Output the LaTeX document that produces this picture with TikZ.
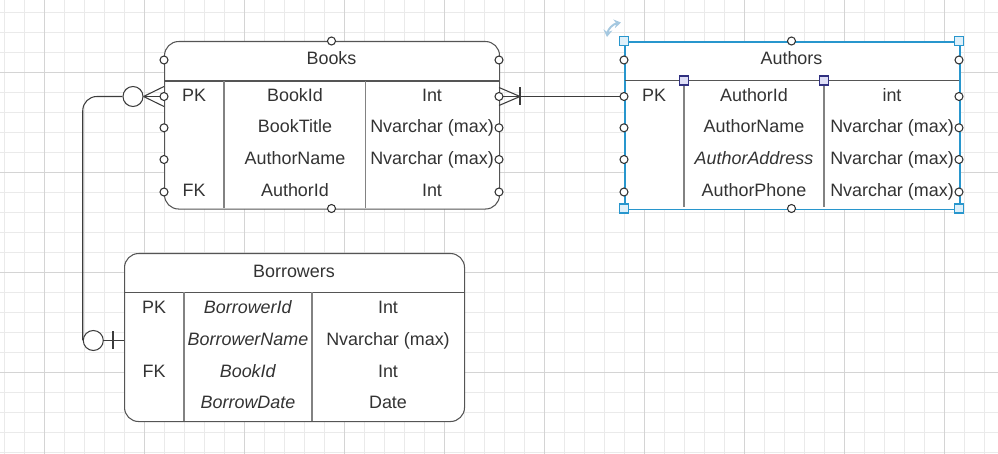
\documentclass[tikz,border=0pt]{standalone}
\usepackage{fontspec}
\setmainfont{Liberation Sans}
\usepackage{xcolor}
\definecolor{erline}{RGB}{85,85,85}
\definecolor{erdiv}{RGB}{130,130,130}
\definecolor{ertext}{RGB}{51,51,51}
\definecolor{connline}{RGB}{60,60,60}
\definecolor{gridminor}{RGB}{234,234,234}
\definecolor{gridmajor}{RGB}{212,212,212}
\definecolor{selblue}{RGB}{40,150,205}
\definecolor{selfill}{RGB}{222,240,250}
\definecolor{colhandle}{RGB}{48,48,128}
\definecolor{colfill}{RGB}{222,222,246}
\definecolor{rotblue}{RGB}{165,200,224}
\usetikzlibrary{arrows.meta,positioning,calc}

\begin{document}
\begin{tikzpicture}[x=0.2mm, y=-0.2mm, font=\fontsize{10.2}{12}\selectfont]
    \tikzset{tbl/.style={rectangle, draw=erline, line width=0.6pt, fill=white,
      rounded corners=8pt, inner sep=0pt, anchor=north west}}
    \tikzset{cell/.style={inner sep=0pt, text height=7.3pt, text depth=0pt, text=ertext}}
    \tikzset{cpt/.style={circle, draw=ertext, fill=white, line width=0.6pt,
      inner sep=0pt, minimum size=1.6mm}}
    \tikzset{zero/.style={circle, draw=connline, fill=white, line width=0.6pt,
      inner sep=0pt, minimum size=4mm}}
    \tikzset{hdr/.style={draw=erline, line width=0.6pt}}
    \tikzset{coldiv/.style={draw=erdiv, line width=0.6pt}}
    \tikzset{conn/.style={draw=connline, line width=0.6pt}}
    \tikzset{handle/.style={rectangle, draw=selblue, fill=selfill, line width=0.6pt,
      inner sep=0pt, minimum size=1.8mm}}

    \useasboundingbox (0,0) rectangle (998,454);

    % Background grid
    \foreach \x in {4,24,...,984}{
      \draw[gridminor, line width=0.5pt] (\x,0) -- (\x,454);
    }
    \foreach \y in {12,32,...,452}{
      \draw[gridminor, line width=0.5pt] (0,\y) -- (998,\y);
    }
    \foreach \x in {44,144,...,944}{
      \draw[gridmajor, line width=0.5pt] (\x,0) -- (\x,454);
    }
    \foreach \y in {72,172,272,372}{
      \draw[gridmajor, line width=0.5pt] (0,\y) -- (998,\y);
    }

    % Books table
    \node[tbl, minimum width=67mm, minimum height=33.5mm] (books) at (164,41) {};
    \draw[hdr] (164,81) -- (499,81);
    \draw[coldiv] (224,81) -- (224,208.5);
    \draw[coldiv] (365.5,81) -- (365.5,208.5);
    \node[cell] (bk-title) at (331.5,58.5) {Books};
    \foreach \y/\k/\n/\t [count=\i] in {95/PK/BookId/Int, 126.5//BookTitle/Nvarchar (max),
      158//AuthorName/Nvarchar (max), 190/FK/AuthorId/Int}{
      \node[cell] (bk-k\i) at (194,\y) {\k};
      \node[cell] (bk-n\i) at (295,\y) {\n};
      \node[cell] (bk-t\i) at (432,\y) {\t};
    }

    % Authors table (selected)
    \node[tbl, draw=selblue, line width=1pt, rounded corners=0pt, minimum width=67mm,
      minimum height=33.5mm] (authors) at (624,41) {};
    \draw[hdr] (624.5,80.5) -- (958.5,80.5);
    \draw[coldiv] (684,80.5) -- (684,207.5);
    \draw[coldiv] (824,80.5) -- (824,207.5);
    \node[cell] (au-title) at (791.5,58.5) {Authors};
    \foreach \y/\k/\n/\t [count=\i] in {95/PK/AuthorId/int, 126.5//AuthorName/Nvarchar (max),
      158//\textit{AuthorAddress}/Nvarchar (max), 190//AuthorPhone/Nvarchar (max)}{
      \node[cell] (au-k\i) at (654,\y) {\k};
      \node[cell] (au-n\i) at (754,\y) {\n};
      \node[cell] (au-t\i) at (892,\y) {\t};
    }

    % Borrowers table
    \node[tbl, minimum width=68mm, minimum height=33.6mm] (borrowers) at (124,253) {};
    \draw[hdr] (124,292.5) -- (464,292.5);
    \draw[coldiv] (184,292.5) -- (184,421);
    \draw[coldiv] (312,292.5) -- (312,421);
    \node[cell] (br-title) at (294,271) {Borrowers};
    \foreach \y/\k/\n/\t [count=\i] in {307/PK/\textit{BorrowerId}/Int,
      339//\textit{BorrowerName}/Nvarchar (max), 371/FK/\textit{BookId}/Int,
      402.5//\textit{BorrowDate}/Date}{
      \node[cell] (br-k\i) at (154,\y) {\k};
      \node[cell] (br-n\i) at (248,\y) {\n};
      \node[cell] (br-t\i) at (388,\y) {\t};
    }

    % Connection points
    \node[cpt] (bk-top) at (331.5,41) {};
    \node[cpt] (bk-bot) at (331.5,208.5) {};
    \node[cpt] (au-top) at (791.5,41) {};
    \node[cpt] (au-bot) at (791.5,208.5) {};
    \coordinate (br-l2) at (124,340.5);
    \node[zero] (bk-zero) at (133,96.5) {};
    \node[zero] (br-zero) at (93.3,340.5) {};

    % Books -> Authors (one or many)
    \draw[conn] (499,96.5) -- (624,96.5);
    \draw[conn] ($(499,96.5)+(0,-9)$) -- ($(499,96.5)+(21,0)$) -- ($(499,96.5)+(0,9)$);
    \draw[conn] ($(499,96.5)+(21,-9)$) -- ($(499,96.5)+(21,9)$);

    % Books -> Borrowers (zero or many / zero or one)
    \draw[conn] (bk-zero.east) -- (164,86.5);
    \draw[conn] (bk-zero.east) -- (164,96.5);
    \draw[conn] (bk-zero.east) -- (164,106.5);
    \draw[conn, rounded corners=8pt] (bk-zero.west) -| (br-zero.west);
    \draw[conn] (br-zero.east) -- (br-l2);
    \draw[conn] ($(br-l2)+(-11,-9)$) -- ($(br-l2)+(-11,9)$);

    \foreach \y [count=\i from 0] in {60,96.5,127.8,159.5,192}{
      \node[cpt] (bk-l\i) at (164,\y) {};
      \node[cpt] (bk-r\i) at (499,\y) {};
      \node[cpt] (au-l\i) at (624,\y) {};
      \node[cpt] (au-r\i) at (959,\y) {};
    }

    % Selection handles
    \foreach \p/\q in {624/41, 959/41, 624/208.5, 959/208.5}{
      \node[handle] at (\p,\q) {};
    }
    \node[handle, draw=colhandle, fill=colfill] (au-c1) at (684,80.5) {};
    \node[handle, draw=colhandle, fill=colfill] (au-c2) at (824,80.5) {};
    \draw[rotblue, line width=1.1pt,
      {Stealth[length=4pt, width=5pt]}-{Stealth[length=4pt, width=5pt]}]
      (607,37) .. controls (608,29) and (613,24) .. (621,22.5);
  \end{tikzpicture}
\end{document}
